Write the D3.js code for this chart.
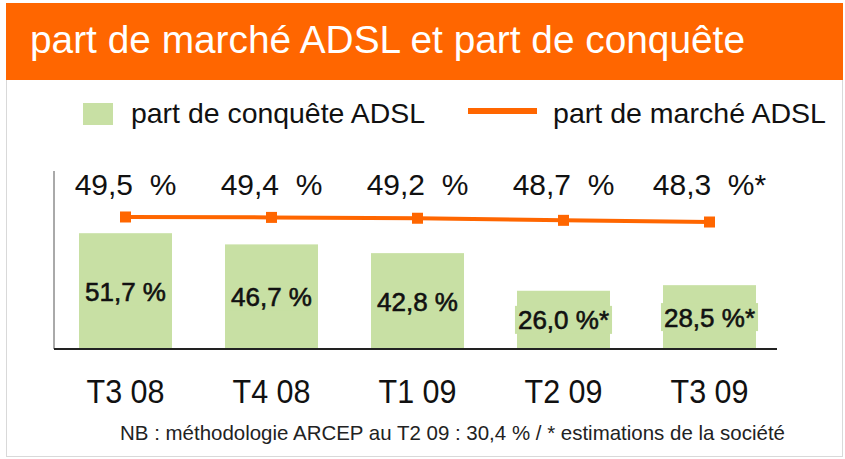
<!DOCTYPE html>
<html>
<head>
<meta charset="utf-8">
<script src="https://cdn.jsdelivr.net/npm/d3@7"></script>
<style>
  html, body { margin: 0; padding: 0; background: #fff; }
  svg { display: block; font-family: "Liberation Sans", Arial, Helvetica, sans-serif; }
</style>
</head>
<body>
<svg id="chart" width="845" height="459"></svg>
<script>
// ---- data ----
const categories = ["T3 08", "T4 08", "T1 09", "T2 09", "T3 09"];
const conquestShare = [51.7, 46.7, 42.8, 26.0, 28.5];        // part de conquête ADSL (bars)
const conquestEstimated = [false, false, false, true, true];
const marketShare = [49.5, 49.4, 49.2, 48.7, 48.3];          // part de marché ADSL (line)
const marketEstimated = [false, false, false, false, true];
const titleText = "part de marché ADSL et part de conquête";
const legendLabels = ["part de conquête ADSL", "part de marché ADSL"];
const footnote = "NB : méthodologie ARCEP au T2 09 : 30,4 % / * estimations de la société";

const ORANGE = "#ff6600";
const GREEN = "#c8e0a4";

const svg = d3.select("#chart");
const fmt = v => d3.format(".1f")(v).replace(".", ",");

// frame + header
svg.append("rect").attr("x", 6.5).attr("y", 3.5).attr("width", 836).attr("height", 453)
  .attr("fill", "#fff").attr("stroke", "#d9d9d9").attr("stroke-width", 1);
svg.append("rect").attr("x", 6).attr("y", 3).attr("width", 837).attr("height", 77).attr("fill", ORANGE);
svg.append("text").attr("x", 30).attr("y", 53).attr("fill", "#fff")
  .attr("font-size", 38).attr("textLength", 715).attr("lengthAdjust", "spacingAndGlyphs")
  .text(titleText);

// legend
svg.append("rect").attr("x", 83).attr("y", 103).attr("width", 30).attr("height", 22).attr("fill", GREEN);
svg.append("text").attr("x", 131).attr("y", 123).attr("font-size", 28).attr("fill", "#111")
  .attr("textLength", 294).attr("lengthAdjust", "spacingAndGlyphs").text(legendLabels[0]);
svg.append("line").attr("x1", 468).attr("x2", 537).attr("y1", 111).attr("y2", 111)
  .attr("stroke", ORANGE).attr("stroke-width", 6);
svg.append("text").attr("x", 553).attr("y", 123).attr("font-size", 28).attr("fill", "#111")
  .attr("textLength", 273).attr("lengthAdjust", "spacingAndGlyphs").text(legendLabels[1]);

// scales
const x = d3.scaleBand().domain(categories).range([52.5, 782.5])
  .paddingInner(0.363).paddingOuter(0.1815);
const y = d3.scaleLinear().domain([0, 80]).range([349, 169.8]);
const y2 = d3.scaleLinear().domain([45, 55]).range([235.8, 194]);

// bars
const bars = categories.map((c, i) => ({ c, v: conquestShare[i], est: conquestEstimated[i] }));
svg.append("g").selectAll("rect").data(bars).join("rect")
  .attr("x", d => x(d.c)).attr("width", x.bandwidth())
  .attr("y", d => y(d.v)).attr("height", d => y(0) - y(d.v))
  .attr("fill", GREEN);

// bar labels with background boxes
const lblG = svg.append("g");
bars.forEach(d => {
  const cx = x(d.c) + x.bandwidth() / 2;
  const cy = (y(d.v) + y(0)) / 2;
  const g = lblG.append("g");
  const t = g.append("text").attr("x", cx).attr("y", cy + 9.5)
    .attr("text-anchor", "middle").attr("font-size", 26)
    .attr("fill", "#111").attr("stroke", "#111").attr("stroke-width", 0.6)
    .text(fmt(d.v) + " %" + (d.est ? "*" : ""));
  const bb = t.node().getBBox();
  g.insert("rect", "text").attr("x", bb.x - 3).attr("y", cy - 14).attr("width", bb.width + 6)
    .attr("height", 28).attr("fill", GREEN);
});

// axes lines
svg.append("line").attr("x1", 54).attr("x2", 54).attr("y1", 171).attr("y2", 349)
  .attr("stroke", "#555").attr("stroke-width", 1);
svg.append("line").attr("x1", 54).attr("x2", 777).attr("y1", 349).attr("y2", 349)
  .attr("stroke", "#222").attr("stroke-width", 2);

// category axis labels
const xAxis = d3.axisBottom(x).tickSize(0).tickPadding(0);
const ax = svg.append("g").attr("transform", "translate(0,403)").call(xAxis);
ax.select(".domain").remove();
ax.selectAll("text").attr("dy", 0).attr("font-size", 33).attr("fill", "#111")
  .attr("font-family", "'Liberation Sans', Arial, sans-serif")
  .attr("textLength", 78).attr("lengthAdjust", "spacingAndGlyphs");

// line
const pts = categories.map((c, i) => ({ c, v: marketShare[i], est: marketEstimated[i] }));
const cxOf = d => x(d.c) + x.bandwidth() / 2;
svg.append("path").datum(pts)
  .attr("d", d3.line().x(cxOf).y(d => y2(d.v)))
  .attr("fill", "none").attr("stroke", ORANGE).attr("stroke-width", 4);
svg.append("g").selectAll("rect").data(pts).join("rect")
  .attr("x", d => cxOf(d) - 5.5).attr("y", d => y2(d.v) - 5.5)
  .attr("width", 11).attr("height", 11).attr("fill", ORANGE);
svg.append("g").selectAll("text").data(pts).join("text")
  .attr("x", cxOf).attr("y", 195).attr("text-anchor", "middle")
  .attr("font-size", 30).attr("fill", "#111")
  .text(d => fmt(d.v) + "\u00A0\u00A0%" + (d.est ? "*" : ""));

// footnote
svg.append("text").attr("x", 120).attr("y", 440).attr("font-size", 21).attr("fill", "#222")
  .attr("textLength", 665).attr("lengthAdjust", "spacingAndGlyphs").text(footnote);
</script>
</body>
</html>
